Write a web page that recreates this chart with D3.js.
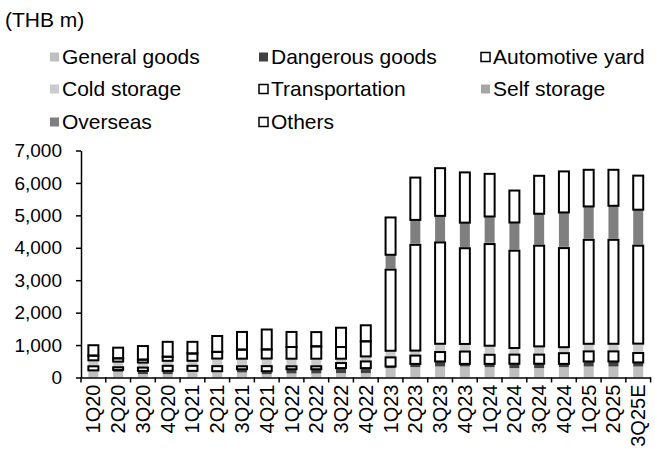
<!DOCTYPE html>
<html>
<head>
<meta charset="utf-8">
<script src="https://cdn.jsdelivr.net/npm/d3@7"></script>
<style>
  html, body { margin: 0; padding: 0; background: #fff; }
  svg { display: block; font-family: "Liberation Sans", Arial, sans-serif; }
</style>
</head>
<body>
<svg id="chart" width="655" height="454"></svg>
<script>
const categories = ["1Q20","2Q20","3Q20","4Q20","1Q21","2Q21","3Q21","4Q21","1Q22","2Q22","3Q22","4Q22",
  "1Q23","2Q23","3Q23","4Q23","1Q24","2Q24","3Q24","4Q24","1Q25","2Q25","3Q25E"];
const generalGoods   = [200,175,105,105,185,175,155,105,125,125,135,135, 290,320,340,340,320,290,290,320,340,340,340];
const dangerousGoods = [20,60,100,100,20,20,100,90,130,130,155,155, 50,100,155,80,100,135,135,100,155,155,125];
const automotiveYard = [125,80,100,155,155,155,90,155,90,90,155,205, 280,255,290,380,280,280,280,330,310,310,290];
const coldStorage    = [185,175,155,155,155,235,235,235,235,235,135,155, 205,155,255,235,280,205,255,185,235,235,290];
const transportation = [145,100,90,125,225,205,280,280,360,380,360,465, 2500,3260,3125,2950,3135,3000,3105,3055,3205,3205,3020];
const selfStorage    = [0,0,0,0,0,0,0,0,0,0,0,0, 40,40,40,40,40,40,40,40,40,40,40];
const overseas       = [0,0,0,0,0,0,0,0,0,0,0,0, 420,730,780,750,810,830,945,1060,990,1010,1070];
const others         = [320,330,420,460,360,490,545,615,465,440,595,495, 1150,1305,1470,1550,1315,985,1170,1265,1130,1110,1050];
const yTicks = [0,1000,2000,3000,4000,5000,6000,7000];
const unitLabel = "(THB m)";

const series = [
  {name:"General goods",   values:generalGoods,   fill:"#bfbfbf", box:false},
  {name:"Dangerous goods", values:dangerousGoods, fill:"#404040", box:false},
  {name:"Automotive yard", values:automotiveYard, fill:"#ffffff", box:true},
  {name:"Cold storage",    values:coldStorage,    fill:"#cbcbcb", box:false},
  {name:"Transportation",  values:transportation, fill:"#ffffff", box:true},
  {name:"Self storage",    values:selfStorage,    fill:"#a6a6a6", box:false},
  {name:"Overseas",        values:overseas,       fill:"#7f7f7f", box:false},
  {name:"Others",          values:others,         fill:"#ffffff", box:true}
];

const table = categories.map((c,i) => {
  const row = {cat:c};
  series.forEach(s => row[s.name] = s.values[i]);
  return row;
});
const stacked = d3.stack().keys(series.map(s=>s.name))(table);

const svg = d3.select("#chart");
const plotL = 81, plotR = 650.6, plotT = 150.5, plotB = 377.5;

const x = d3.scaleBand().domain(categories).range([plotL, plotR]).paddingInner(0).paddingOuter(0);
const y = d3.scaleLinear().domain([0,7000]).range([plotB, plotT]);
const barW = 10;

series.forEach((s, si) => {
  svg.append("g").selectAll("rect").data(stacked[si]).join("rect")
    .attr("x", d => x(d.data.cat) + x.bandwidth()/2 - barW/2)
    .attr("width", barW)
    .attr("y", d => y(d[1]))
    .attr("height", d => Math.max(0, y(d[0]) - y(d[1])))
    .attr("fill", s.fill);
});
series.forEach((s, si) => {
  if (!s.box) return;
  const layer = stacked[si].filter(d => d[1] - d[0] > 0);
  svg.append("g").selectAll("rect").data(layer).join("rect")
    .attr("x", d => x(d.data.cat) + x.bandwidth()/2 - barW/2)
    .attr("width", barW)
    .attr("y", d => y(d[1]))
    .attr("height", d => Math.max(0, y(d[0]) - y(d[1])))
    .attr("fill", "none")
    .attr("stroke", "#000")
    .attr("stroke-width", 2);
});

const yAxis = d3.axisLeft(y).tickValues(yTicks).tickFormat(d3.format(",")).tickSize(5).tickSizeOuter(0).tickPadding(14);
const gy = svg.append("g").attr("transform", `translate(${plotL},0)`).call(yAxis);
gy.select(".domain").attr("stroke","#000").attr("stroke-width",1.5);
gy.selectAll(".tick line").attr("stroke","#000").attr("stroke-width",1.5);
gy.selectAll(".tick text").attr("font-size", 19).attr("fill","#000")
  .attr("font-family","'Liberation Sans', Arial, sans-serif");

const xAxis = d3.axisBottom(x).tickSize(0).tickSizeOuter(0);
const gx = svg.append("g").attr("transform", `translate(0,${plotB})`).call(xAxis);
gx.select(".domain").attr("stroke","#000").attr("stroke-width",1.5);
gx.selectAll(".tick text")
  .attr("font-size", 20).attr("fill","#000")
  .attr("font-family","'Liberation Sans', Arial, sans-serif")
  .attr("transform","rotate(-90)")
  .attr("text-anchor","end")
  .attr("x", -7).attr("y", 0).attr("dy","0.35em");
const bounds = categories.map(c => x(c)).concat([plotR]);
svg.append("g").selectAll("line").data(bounds).join("line")
  .attr("x1", d=>d).attr("x2", d=>d)
  .attr("y1", plotB).attr("y2", plotB+5)
  .attr("stroke","#000").attr("stroke-width",1.5);

svg.append("text").attr("x", 5).attr("y", 27).attr("font-size", 21).text(unitLabel);

const legCols = [50, 259, 481];
const legRows = [57, 89, 122];
const leg = svg.append("g");
series.forEach((s,i) => {
  const cx = legCols[i % 3], cy = legRows[Math.floor(i/3)];
  const g = leg.append("g").attr("transform", `translate(${cx},${cy})`);
  g.append("rect").attr("x", 0).attr("y", -4.5).attr("width", 9).attr("height", 9)
    .attr("fill", s.fill).attr("stroke", s.box ? "#000" : "none").attr("stroke-width", 1.5);
  g.append("text").attr("x", 12).attr("y", 0).attr("dy","0.35em").attr("font-size", 21).text(s.name);
});
</script>
</body>
</html>
